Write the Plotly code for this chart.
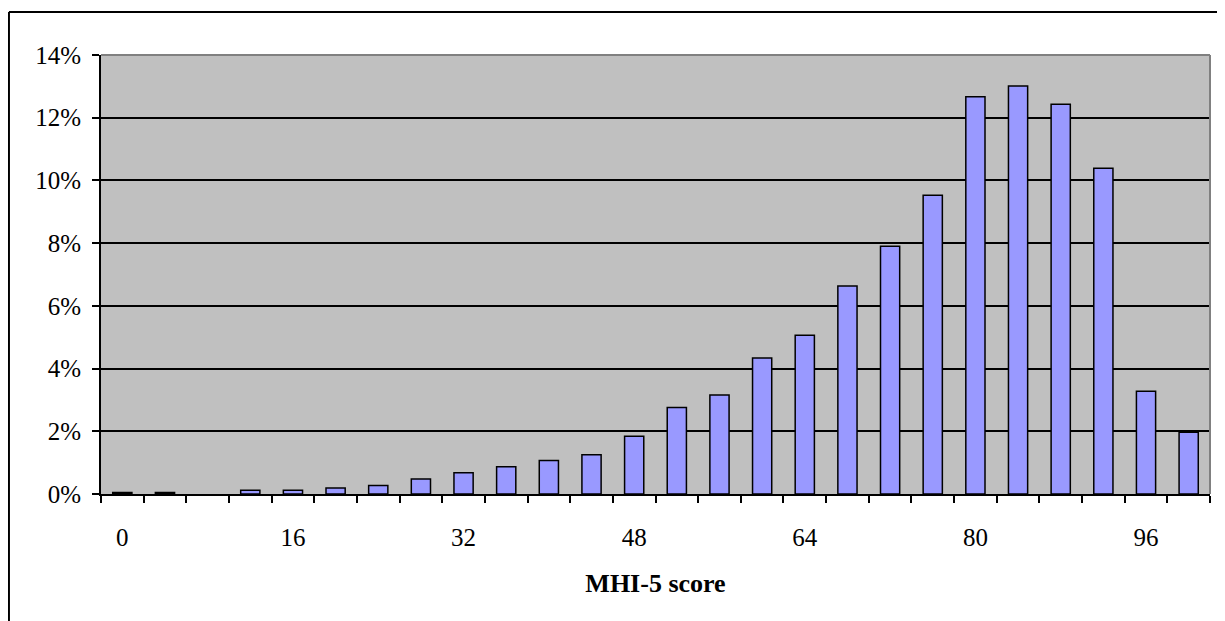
import plotly.graph_objects as go

scores = [0, 4, 8, 12, 16, 20, 24, 28, 32, 36, 40, 44, 48, 52, 56, 60, 64, 68, 72, 76, 80, 84, 88, 92, 96, 100]
percent = [0.05, 0.05, 0, 0.12, 0.12, 0.19, 0.27, 0.48, 0.68, 0.87, 1.07, 1.25, 1.84, 2.76, 3.16,
           4.34, 5.06, 6.63, 7.9, 9.53, 12.67, 13.01, 12.43, 10.39, 3.28, 1.97]
x_tick_vals = [0, 16, 32, 48, 64, 80, 96]
y_tick_vals = [0, 2, 4, 6, 8, 10, 12, 14]

FONT = "Liberation Serif, Times New Roman, serif"

# zero-height categories are not drawn in the original
bar_y = [v if v > 0 else None for v in percent]

fig = go.Figure(go.Bar(
    x=scores, y=bar_y, width=1.8,
    marker=dict(color="#9999FF", line=dict(color="black", width=1.5)),
))

# page body has an 8px margin, so the figure is offset by (8, 8)
fig.update_layout(
    width=1217, height=613,
    margin=dict(l=93, r=15, t=47, b=127),
    paper_bgcolor="white", plot_bgcolor="#C0C0C0",
    font=dict(family=FONT, size=25, color="black"),
    showlegend=False,
    xaxis=dict(
        range=[-2, 102], tickvals=x_tick_vals, ticktext=[str(v) for v in x_tick_vals],
        ticks="", showgrid=False, zeroline=False,
        showline=True, linecolor="black", linewidth=2,
        minor=dict(ticks="outside", tick0=-2, dtick=4, ticklen=7, tickcolor="black", tickwidth=2, showgrid=False),
        ticklabelstandoff=20,
        title=dict(text="<b>MHI-5 score</b>", font=dict(size=26, family=FONT), standoff=24),
    ),
    yaxis=dict(
        range=[0, 14], tickvals=y_tick_vals, ticktext=[f"{v}%" for v in y_tick_vals],
        ticks="outside", ticklen=7, tickwidth=2, tickcolor="black",
        showgrid=True, gridcolor="black", gridwidth=1.5, zeroline=False,
        showline=True, linecolor="black", linewidth=2,
        ticklabelstandoff=6,
    ),
    shapes=[
        # plot area top/right gray border
        dict(type="line", xref="paper", yref="paper", x0=0, x1=1, y0=1, y1=1, line=dict(color="#808080", width=2)),
        dict(type="line", xref="paper", yref="paper", x0=1, x1=1, y0=0, y1=1, line=dict(color="#808080", width=2)),
        # outer chart frame
        dict(type="line", xref="paper", yref="paper", x0=-0.083, x1=1.03, y0=1.098, y1=1.098, line=dict(color="black", width=2)),
        dict(type="line", xref="paper", yref="paper", x0=-0.083, x1=-0.083, y0=1.098, y1=-0.32, line=dict(color="black", width=2)),
        # clipped legend edge
        dict(type="line", xref="paper", yref="paper", x0=1.0108, x1=1.0108, y0=0.735, y1=0.695, line=dict(color="#808080", width=2)),
    ],
)

fig.write_html("out.html")
